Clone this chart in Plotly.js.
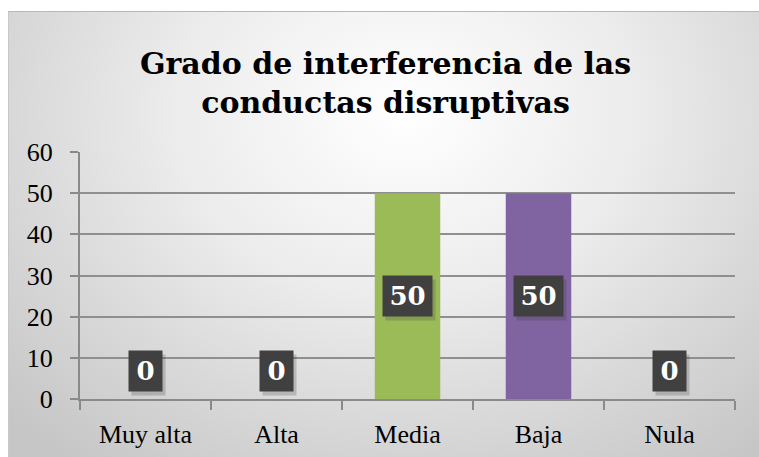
<!DOCTYPE html>
<html>
<head>
<meta charset="utf-8">
<script src="https://cdn.plot.ly/plotly-3.0.1.min.js"></script>
<style>
html,body{margin:0;padding:0;background:#fff;}
#wrap{position:relative;width:759px;height:457px;overflow:hidden;background:#fff;}
#bg{position:absolute;left:8px;top:11px;width:760px;height:460px;
  background:radial-gradient(ellipse 72% 95% at 52% 22%, #ffffff 0%, #ececec 42%, #d8d8d8 72%, #c6c6c6 100%);
  border-left:1px solid #c8c8c8;border-top:1px solid #b8b8b8;}
#chart{position:absolute;left:0;top:0;width:759px;height:457px;}
</style>
</head>
<body>
<div id="wrap"><div id="bg"></div><div id="chart"></div></div>
<script>
const categories = ["Muy alta", "Alta", "Media", "Baja", "Nula"];
const values = [0, 0, 50, 50, 0];
const barColors = ["#4F81BD", "#C0504D", "#9BBB59", "#8064A2", "#4BACC6"];
const yTicks = [0, 10, 20, 30, 40, 50, 60];
const titleText = "Grado de interferencia de las<br>conductas disruptivas";

const tickFont = "Liberation Serif, DejaVu Serif, serif";
const boldFont = "DejaVu Serif, Liberation Serif, serif";

const trace = {
  type: "bar",
  x: categories,
  y: values,
  marker: {color: barColors},
  width: 0.5,
  hoverinfo: "none"
};

const annotations = [];
categories.forEach((c, i) => {
  const v = values[i];
  const txt = String(v);
  const w = txt.length > 1 ? 43 : 27;
  const base = {
    x: c, xref: "x", yref: "y",
    y: v > 0 ? v / 2 : 0,
    yanchor: v > 0 ? "middle" : "bottom",
    showarrow: false,
    font: {family: boldFont, size: 26, color: "#ffffff"},
    width: w, height: 34,
    borderpad: 3
  };
  annotations.push(Object.assign({}, base, {
    text: " ",
    bgcolor: "rgba(50,50,50,0.22)",
    xshift: 3, yshift: (v > 0 ? 0 : 7) - 4
  }));
  annotations.push(Object.assign({}, base, {
    text: "<b>" + txt + "</b>",
    bgcolor: "#404040",
    xshift: 0, yshift: v > 0 ? 0 : 7
  }));
});

const layout = {
  width: 759, height: 457,
  paper_bgcolor: "rgba(0,0,0,0)",
  plot_bgcolor: "rgba(0,0,0,0)",
  margin: {l: 80, r: 24, t: 152, b: 58},
  showlegend: false,
  bargap: 0.5,
  title: {
    text: "<b>" + titleText + "</b>",
    font: {family: boldFont, size: 30, color: "#000000"},
    x: 0.508, xanchor: "center",
    y: 0.837, yanchor: "middle", yref: "container"
  },
  xaxis: {
    type: "category",
    tickfont: {family: tickFont, size: 26, color: "#000000"},
    showline: true, linecolor: "#8a8a8a", linewidth: 2,
    ticks: "outside", tickson: "boundaries", ticklen: 9, tickcolor: "#8a8a8a", tickwidth: 2,
    ticklabelstandoff: 11,
    showgrid: false, fixedrange: true
  },
  yaxis: {
    range: [0, 60],
    tickvals: yTicks,
    tickfont: {family: tickFont, size: 26, color: "#000000"},
    showline: true, linecolor: "#8a8a8a", linewidth: 2,
    ticks: "outside", ticklen: 8, tickcolor: "#8a8a8a", tickwidth: 2,
    ticklabelstandoff: 12,
    showgrid: true, gridcolor: "#8f8f8f", gridwidth: 2,
    zeroline: false, fixedrange: true
  },
  annotations: annotations
};

Plotly.newPlot("chart", [trace], layout, {displayModeBar: false, staticPlot: true});
</script>
</body>
</html>
